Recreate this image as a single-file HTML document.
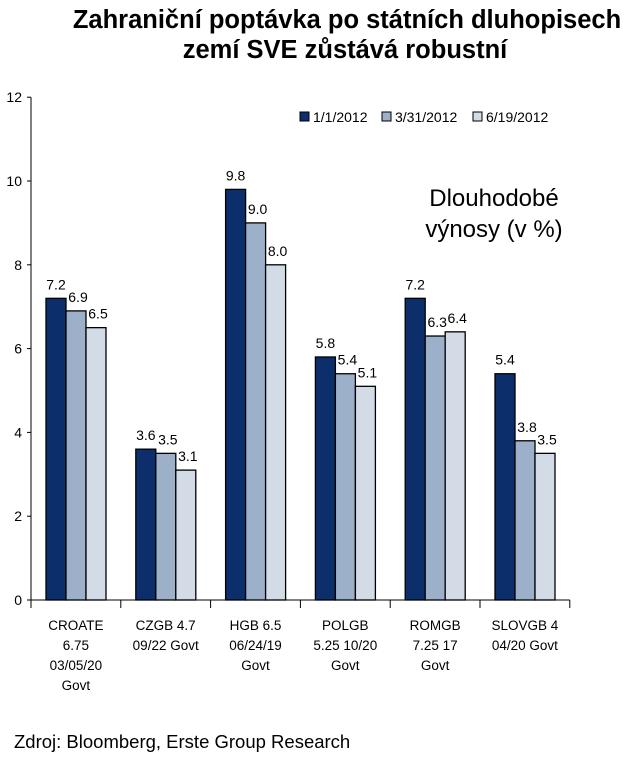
<!DOCTYPE html>
<html><head><meta charset="utf-8"><style>
body{margin:0;background:#fff;width:640px;height:759px;overflow:hidden;font-family:"Liberation Sans",sans-serif;}
</style></head><body>
<svg width="640" height="759" style="font-family:'Liberation Sans',sans-serif">
<text x="347" y="28" text-anchor="middle" font-size="25.5" font-weight="bold">Zahraniční poptávka po státních dluhopisech</text>
<text x="345" y="58" text-anchor="middle" font-size="25.5" font-weight="bold">zemí SVE zůstává robustní</text>
<g id="plot"></g>
<text x="494" y="206" text-anchor="middle" font-size="24">Dlouhodobé</text>
<text x="494" y="237" text-anchor="middle" font-size="24">výnosy (v %)</text>
<text x="14" y="748" font-size="18.5">Zdroj: Bloomberg, Erste Group Research</text>
</svg>
<script>
const categories=[["CROATE","6.75","03/05/20","Govt"],["CZGB 4.7","09/22 Govt"],["HGB 6.5","06/24/19","Govt"],["POLGB","5.25 10/20","Govt"],["ROMGB","7.25 17","Govt"],["SLOVGB 4","04/20 Govt"]];
const seriesNames=["1/1/2012","3/31/2012","6/19/2012"];
const s1=[7.2,3.6,9.8,5.8,7.2,5.4];
const s2=[6.9,3.5,9.0,5.4,6.3,3.8];
const s3=[6.5,3.1,8.0,5.1,6.4,3.5];
const yTicks=[0,2,4,6,8,10,12];
const series=[s1,s2,s3];
const colors=["#0c2f6c","#9cb0ca","#d3dbe7"];
const NS="http://www.w3.org/2000/svg";
const g=document.getElementById('plot');
const x0=31,groupW=89.8,y0=600,pxPer=41.9,barW=20,pad=15;
const y=v=>y0-v*pxPer;
function el(t,a){const e=document.createElementNS(NS,t);for(const k in a)e.setAttribute(k,a[k]);g.appendChild(e);return e;}
let ax=el('line',{x1:x0,y1:y(12),x2:x0,y2:y0,stroke:'#000'});


yTicks.forEach(t=>{
 const l=el('line',{x1:x0-4,y1:y(t),x2:x0,y2:y(t),stroke:'#000'});
 
 
 const tx=el('text',{x:x0-9,y:y(t)+5,'text-anchor':'end','font-size':14});
 tx.textContent=t;
 
 
});
let xa=el('line',{x1:x0,y1:y0,x2:x0+groupW*categories.length,y2:y0,stroke:'#000'});


for(let i=0;i<=categories.length;i++){
 const l=el('line',{x1:x0+i*groupW,y1:y0,x2:x0+i*groupW,y2:y0+8,stroke:'#000'});
 
 
}
categories.forEach((c,i)=>{
 const cx=x0+i*groupW+groupW/2;
 c.forEach((line,j)=>{
  const t=el('text',{x:cx,y:630+j*20,'text-anchor':'middle','font-size':13.5});
  t.textContent=line;
  
  
 });
 series.forEach((s,k)=>{
  const bx=x0+i*groupW+pad+k*barW;
  const r=el('rect',{x:bx,y:y(s[i]),width:barW,height:s[i]*pxPer,fill:colors[k],stroke:'#000','stroke-width':1.3});
  
  
  const t=el('text',{x:bx+barW/2+(k>0?2:0),y:y(s[i])-9,'text-anchor':'middle','font-size':14});
  t.textContent=s[i].toFixed(1);
  
  
 });
});
const lx=[300,382,473];
seriesNames.forEach((n,k)=>{
 const r=el('rect',{x:lx[k],y:112,width:9,height:9,fill:colors[k],stroke:'#000'});
 
 
 const t=el('text',{x:lx[k]+13,y:122,'font-size':14});
 t.textContent=n;
 
 
});
</script>
</body></html>
